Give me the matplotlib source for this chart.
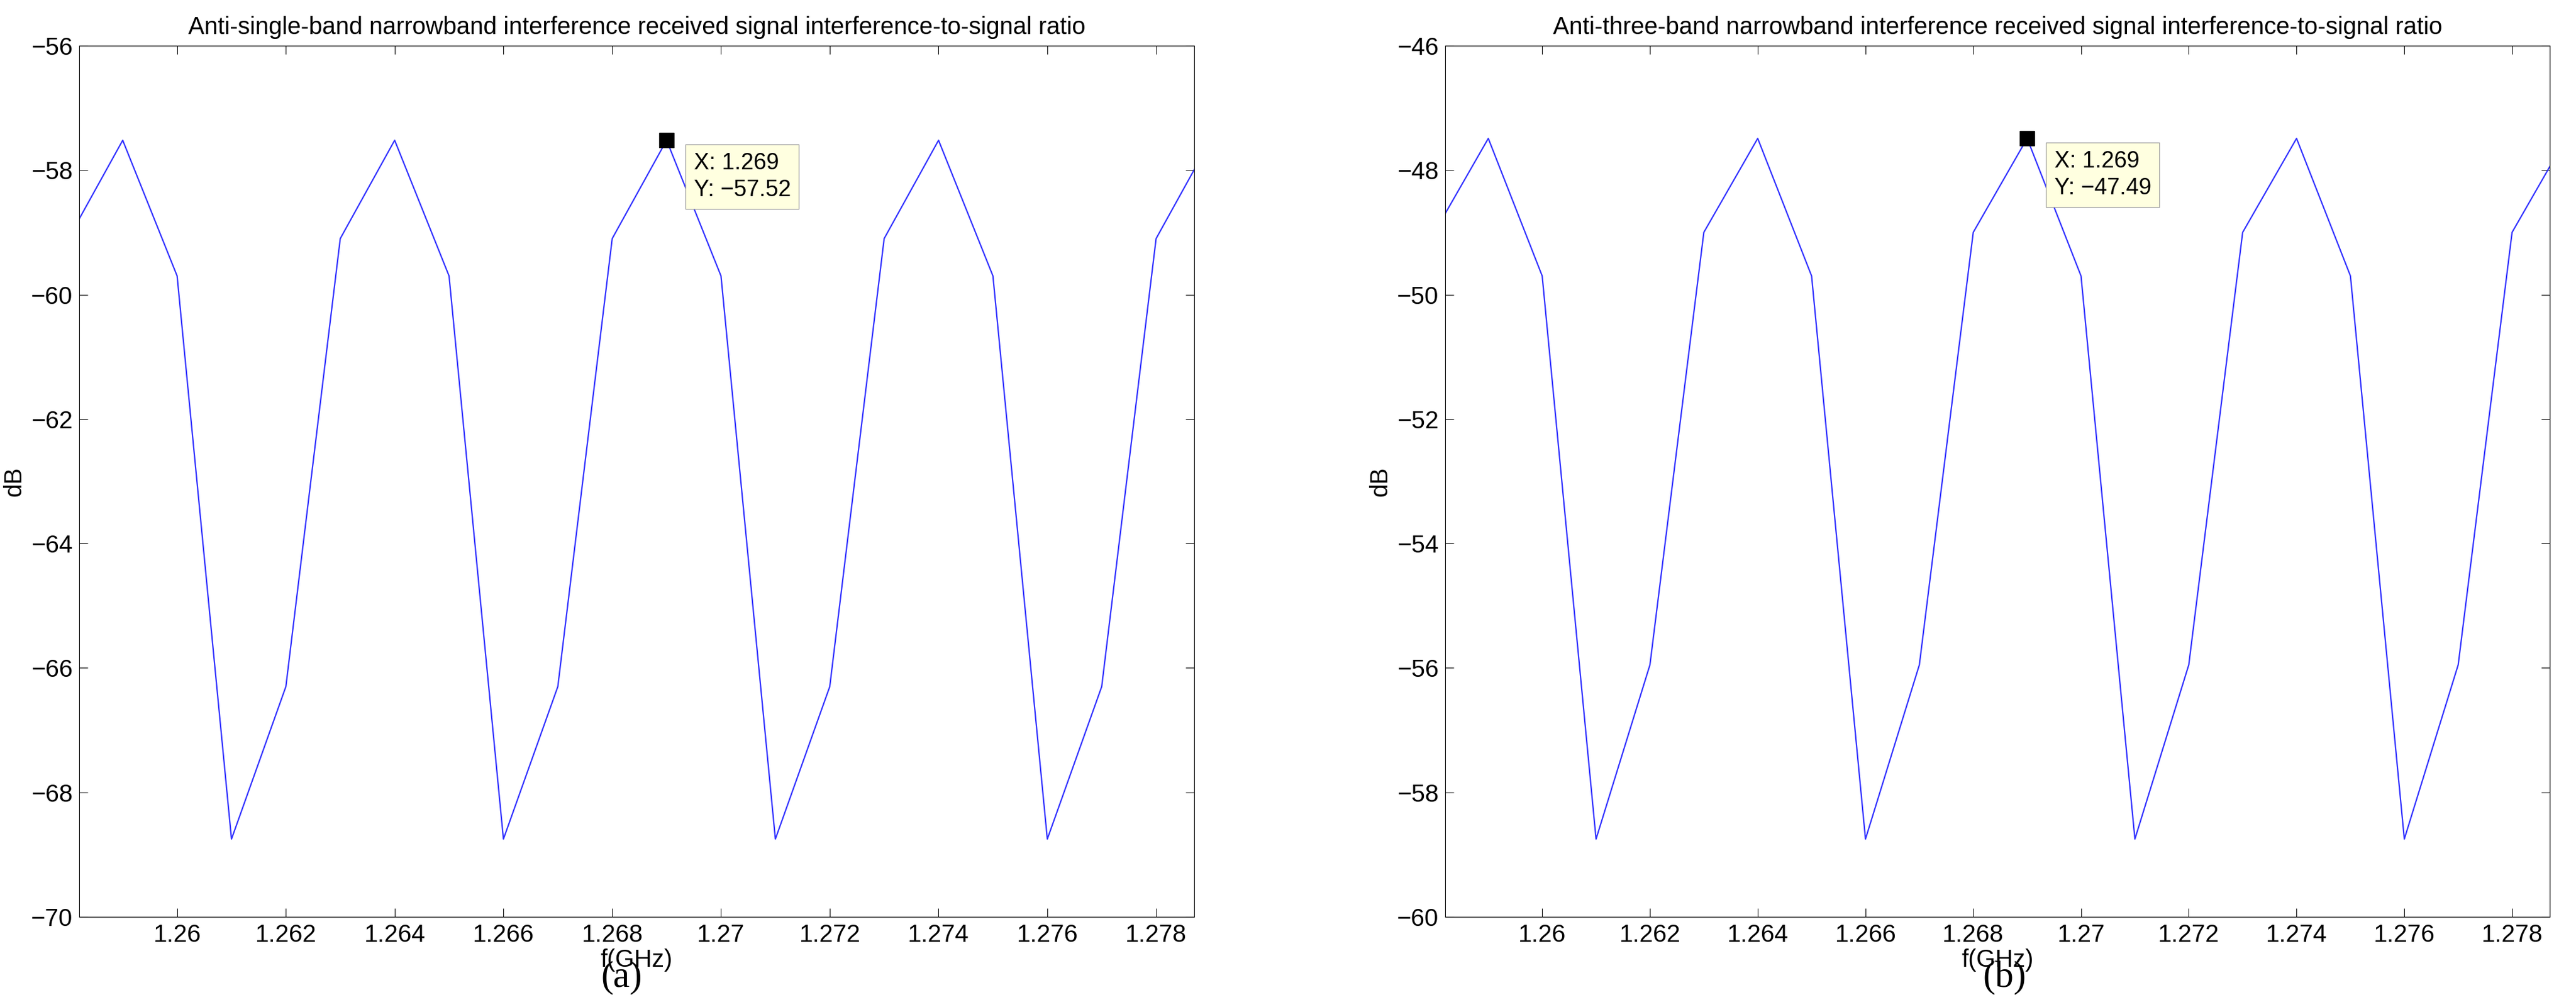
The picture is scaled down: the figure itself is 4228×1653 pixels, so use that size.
import matplotlib

matplotlib.use("Agg")
import matplotlib.pyplot as plt

W, H = 4228, 1653

freq_ghz = [1.258, 1.259, 1.260, 1.261, 1.262, 1.263, 1.264, 1.265, 1.266, 1.267, 1.268,
            1.269, 1.270, 1.271, 1.272, 1.273, 1.274, 1.275, 1.276, 1.277, 1.278, 1.279]
isr_single = [-59.1, -57.52, -59.7, -68.75, -66.3, -59.1, -57.52, -59.7, -68.75, -66.3, -59.1,
              -57.52, -59.7, -68.75, -66.3, -59.1, -57.52, -59.7, -68.75, -66.3, -59.1, -57.52]
isr_three = [-49.0, -47.49, -49.7, -58.75, -55.95, -49.0, -47.49, -49.7, -58.75, -55.95, -49.0,
             -47.49, -49.7, -58.75, -55.95, -49.0, -47.49, -49.7, -58.75, -55.95, -49.0, -47.49]
xticks = [1.26, 1.262, 1.264, 1.266, 1.268, 1.27, 1.272, 1.274, 1.276, 1.278]
xticklabels = ["1.26", "1.262", "1.264", "1.266", "1.268", "1.27", "1.272", "1.274", "1.276", "1.278"]

panels = [
    dict(rect=(130, 75, 1960, 1505), y=isr_single, ylim=(-70, -56), yticks=range(-70, -55, 2),
         title="Anti-single-band narrowband interference received signal interference-to-signal ratio",
         tip=(1.269, -57.52), label="a", label_x=1020),
    dict(rect=(2372, 75, 4185, 1505), y=isr_three, ylim=(-60, -46), yticks=range(-60, -45, 2),
         title="Anti-three-band narrowband interference received signal interference-to-signal ratio",
         tip=(1.269, -47.49), label="b", label_x=3290),
]

plt.rcParams["font.family"] = ["Liberation Sans", "DejaVu Sans"]
fig = plt.figure(figsize=(W / 100, H / 100), dpi=100)

for p in panels:
    l, t, r, b = p["rect"]
    ax = fig.add_axes([l / W, 1 - b / H, (r - l) / W, (b - t) / H])
    ax.plot(freq_ghz, p["y"], color="#3030ff", lw=1.6)
    ax.set_xlim(1.2582, 1.2787)
    ax.set_ylim(*p["ylim"])
    ax.set_xticks(xticks)
    ax.set_xticklabels(xticklabels)
    ax.set_yticks(list(p["yticks"]))
    ax.set_yticklabels([f"\u2212{abs(v)}" for v in p["yticks"]])
    ax.tick_params(labelsize=29, direction="in", length=10, top=True, right=True, pad=8)
    ax.set_xlabel("f(GHz)", fontsize=29, labelpad=2)
    ax.set_ylabel("dB", fontsize=29, labelpad=6)
    ax.set_title(p["title"], fontsize=28.5, pad=14)
    tx, ty = p["tip"]
    ax.plot([tx], [ty], marker="s", ms=17, color="black")
    ax.annotate(f"X: {tx}\nY: \u2212{abs(ty)}", (tx, ty), xytext=(32, -14),
                textcoords="offset points", fontsize=27, va="top", ha="left",
                linespacing=1.3,
                bbox=dict(boxstyle="square,pad=0.35", fc="#ffffe0", ec="#a0a0a0"))
    fig.text(p["label_x"] / W, 1 - 1605 / H, "(" + p["label"] + ")", fontsize=44,
             ha="center", va="center", family="Liberation Serif")

fig.savefig("out.png", dpi=100, facecolor="white")
